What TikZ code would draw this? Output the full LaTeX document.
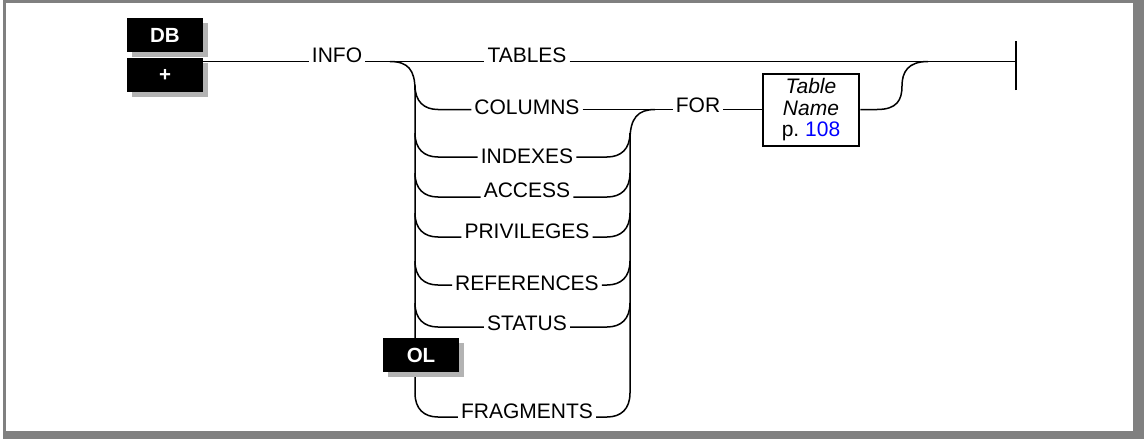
\documentclass[tikz,border=0pt]{standalone}
\usepackage{fontspec}
\setmainfont{Liberation Sans}
\usetikzlibrary{shadows}
\definecolor{framegray}{HTML}{808080}
\definecolor{shadowgray}{HTML}{B3B3B3}
\definecolor{linkblue}{HTML}{0000FF}
\tikzset{
  rr/.style={line width=1.5pt, line cap=butt},
  kw/.style={font=\fontsize{21}{21.5}\selectfont, inner xsep=3pt, inner ysep=0pt},
  tagbox/.style={fill=black, text=white, font=\bfseries\fontsize{20.5}{20.5}\selectfont,
    minimum width=76pt, minimum height=34pt, inner sep=0pt,
    general shadow={fill=shadowgray, shadow xshift=5pt, shadow yshift=-5pt}},
  refbox/.style={draw, line width=2.5pt, minimum width=96pt, minimum height=72pt,
    inner sep=0pt, align=center, font=\fontsize{21}{21.5}\selectfont},
}
\begin{document}
\begin{tikzpicture}[x=1pt,y=-1pt]
% frame
\fill[white] (0,0) rectangle (1144,439);
\fill[framegray] (3,0) rectangle (1144,439);
\fill[white] (6,3) rectangle (1133,431);
\useasboundingbox (0,0) rectangle (1144,439);

% tags
\node[tagbox] (db) at (165,35) {DB};
\node[tagbox] (plus) at (165,75) {\raisebox{-2.5pt}{+}};

% keywords
\node[kw] (info) at (337,55) {INFO};
\node[kw] (tables) at (527,55.5) {TABLES};
\node[kw] (for) at (698,105.5) {FOR};
\node[refbox] (tn) at (811,110) {\textit{Table}\\\textit{Name}\\p.\ \textcolor{linkblue}{108}};
\coordinate (endbar) at (1016,61.5);

% main line
\draw[rr] (plus.east |- 0,61.5) -- (info.west |- 0,61.5);
\draw[rr] (info.east |- 0,61.5) -- (tables.west |- 0,61.5);
\draw[rr] (tables.east |- 0,61.5) -- (endbar);
\draw[line width=2.2pt] ([yshift=-28.5pt]endbar) -- ([yshift=20.5pt]endbar);

% left bus
\draw[rr] (390,61.5) .. controls (408,61.5) and (415,70) .. (415,90) -- (415,393);
% right bus
\draw[rr] (630,393) -- (630,140) .. controls (630,118) and (638,109.5) .. (655,109.5);

% branches
\foreach \n/\t/\cy/\ly in {cols/COLUMNS/107/109.5, idx/INDEXES/156.5/157,
    acc/ACCESS/190/197, priv/PRIVILEGES/231/237, refs/REFERENCES/283.5/285,
    stat/STATUS/323/327, frag/FRAGMENTS/411.5/417}{
  \node[kw] (\n) at (527,\cy) {\t};
  \draw[rr] (415,\ly-24) .. controls (415,\ly-8) and (424,\ly) .. (438,\ly) -- (\n.west |- 0,\ly);
}
\foreach \n/\ly in {idx/157, acc/197, priv/237, refs/285, stat/327, frag/417}{
  \draw[rr] (\n.east |- 0,\ly) -- (607,\ly) .. controls (621,\ly) and (630,\ly-8) .. (630,\ly-24);
}

% COLUMNS -> FOR -> Table Name -> back to main line
\draw[rr] (cols.east |- 0,109.5) -- (for.west |- 0,109.5);
\draw[rr] (for.east |- 0,109.5) -- (tn.west |- 0,109.5);
\draw[rr] (tn.east |- 0,109.5) -- (877,109.5)
  .. controls (897,109.5) and (902,100) .. (902,86)
  .. controls (902,72) and (908,61.5) .. (928,61.5);

% OL tag (over the left bus)
\node[tagbox] (ol) at (421,355) {OL};
\end{tikzpicture}
\end{document}
